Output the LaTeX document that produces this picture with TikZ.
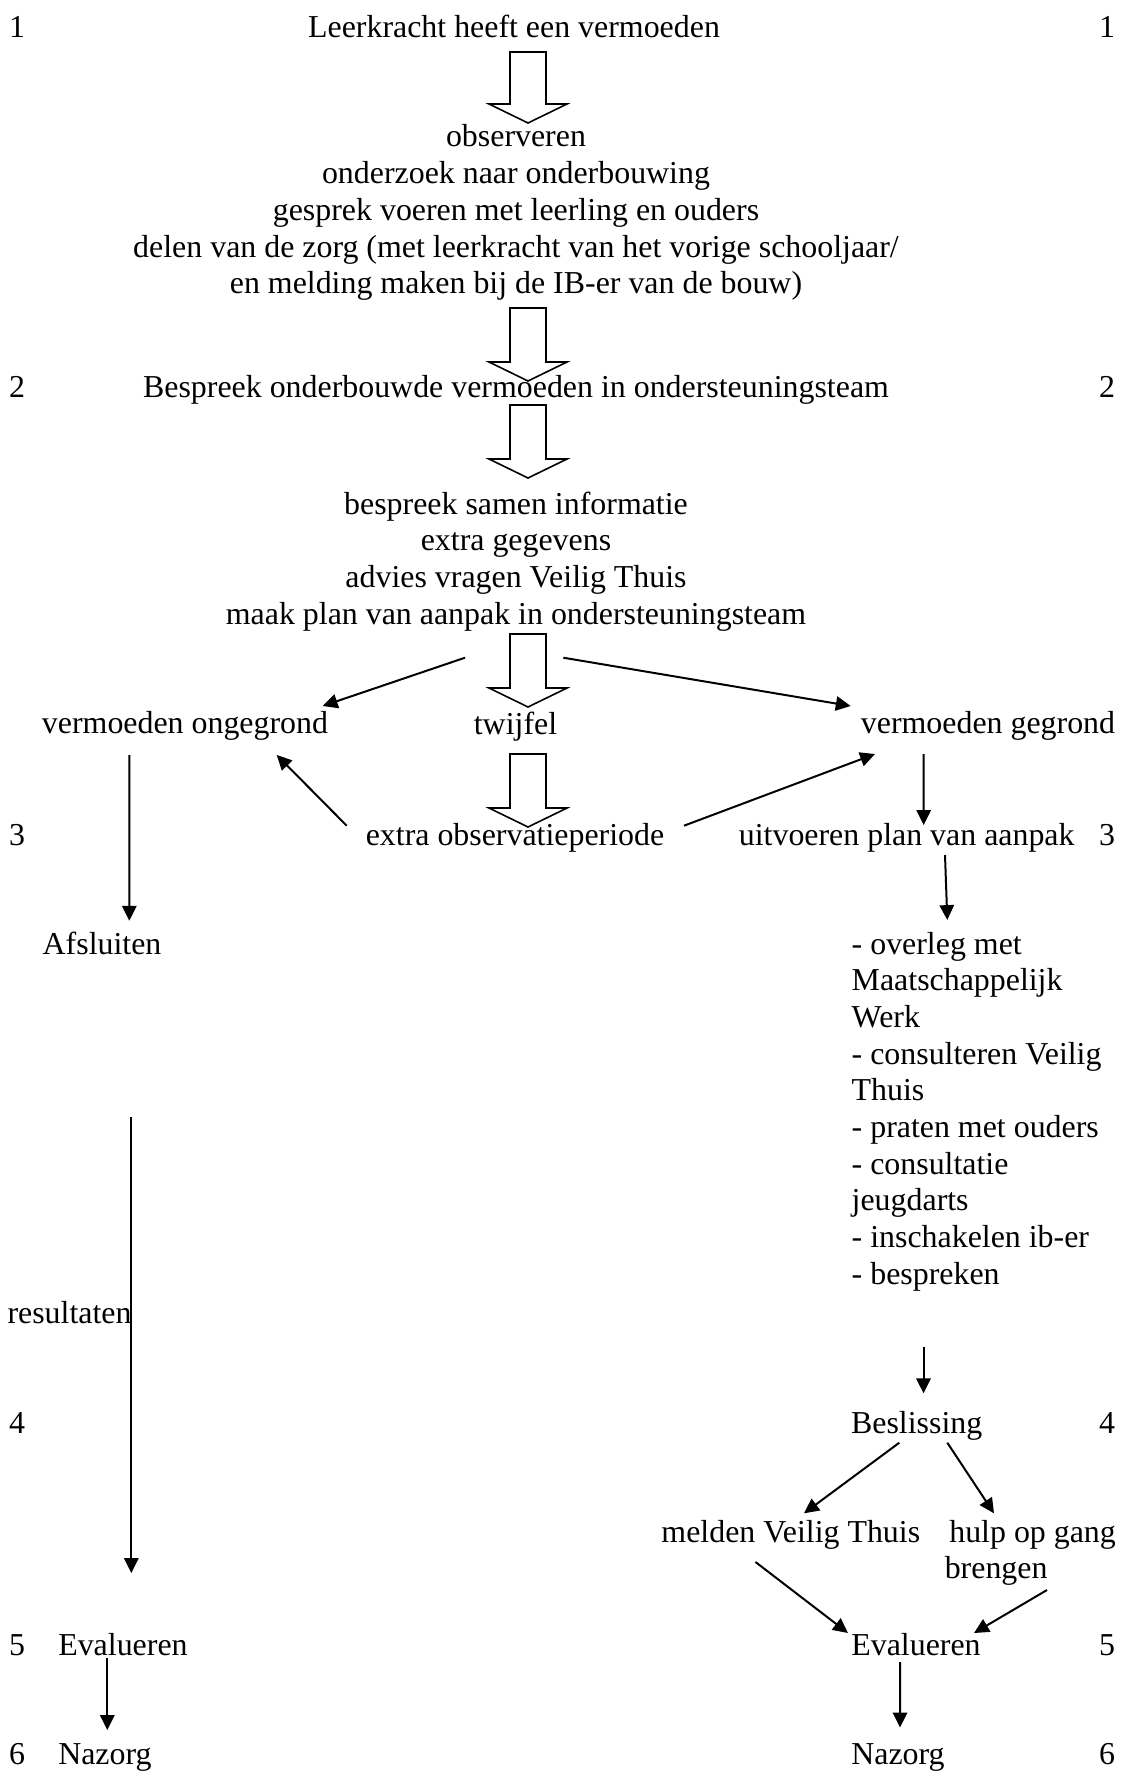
\documentclass[tikz,border=0pt]{standalone}
\usepackage{fontspec}
\setmainfont{Liberation Serif}
\usetikzlibrary{arrows.meta,calc}
\newcommand\harrow[2]{%
  \draw[hollowarr] (510,#1) -- (546,#1) -- (546,#2) -- (567,#2) -- (528,{#2+19}) -- (489,#2) -- (510,#2) -- cycle;}
\begin{document}
\begin{tikzpicture}[x=0.3762pt,y=-0.3762pt,
  every node/.style={inner sep=0pt,outer sep=0pt,font=\fontsize{12}{13.8}\selectfont},
  txt/.style={anchor=base},
  txtl/.style={anchor=base west},
  arr/.style={line width=0.75pt,-{Triangle[length=5.6pt,width=5.4pt]}},
  hollowarr/.style={line width=0.6pt,fill=white,line join=miter}]
\useasboundingbox (0,0) rectangle (1128,1771);

% level numbers
\node[txt] (l1) at (17,38) {1};   \node[txt] (r1) at (1107,38) {1};
\node[txt] (l2) at (17,397) {2};  \node[txt] (r2) at (1107,397) {2};
\node[txt] (l3) at (17,845) {3};\node[txt] (r3) at (1107,845) {3};
\node[txt] (l4) at (17,1433) {4}; \node[txt] (r4) at (1107,1433) {4};
\node[txt] (l5) at (17,1655) {5}; \node[txt] (r5) at (1107,1655) {5};
\node[txt] (l6) at (17,1764) {6}; \node[txt] (r6) at (1107,1764) {6};

% main texts
\node[txt] (t1) at (514,38) {Leerkracht heeft een vermoeden};
\node[txt] (b2) at (516,147) {\begin{tabular}[t]{@{}c@{}}observeren\\onderzoek naar onderbouwing\\gesprek voeren met leerling en ouders\\delen van de zorg (met leerkracht van het vorige schooljaar/\\en melding maken bij de IB-er van de bouw)\end{tabular}};
\node[txt] (t2) at (516,397) {Bespreek onderbouwde vermoeden in ondersteuningsteam};
\node[txt] (b4) at (516,514) {\begin{tabular}[t]{@{}c@{}}bespreek samen informatie\\extra gegevens\\advies vragen Veilig Thuis\\maak plan van aanpak in ondersteuningsteam\end{tabular}};

\node[txt] (ong) at (185,733.5) {vermoeden ongegrond};
\node[txt] (tw) at (515.5,734) {twijfel};
\node[txt] (geg) at (988,733.5) {vermoeden gegrond};
\node[txt] (extra) at (515,845) {extra observatieperiode};
\node[txt] (uitv) at (906.7,845) {uitvoeren plan van aanpak};
\node[txtl] (afs) at (42.7,954) {Afsluiten};
\node[txtl] (list) at (851.7,954) {\begin{tabular}[t]{@{}l@{}}- overleg met\\Maatschappelijk\\Werk\\- consulteren Veilig\\Thuis\\- praten met ouders\\- consultatie\\jeugdarts\\- inschakelen ib-er\\- bespreken\end{tabular}};
\node[anchor=base east] (res) at (131.5,1323) {resultaten};
\node[txt] (besl) at (916.7,1433.3) {Beslissing};
\node[txt] (meld) at (790.8,1542.3) {melden Veilig Thuis};
\node[txtl] (hulp) at (949.3,1542.3) {\begin{tabular}[t]{@{}l@{}}hulp op gang\\\hspace*{-1.7pt}brengen\end{tabular}};
\node[txtl] (evL) at (58.3,1655) {Evalueren};
\node[txt] (evR) at (916,1655) {Evalueren};
\node[txtl] (nazL) at (58.3,1764) {Nazorg};
\node[txtl] (nazR) at (851.3,1764) {Nazorg};

% hollow block arrows
\harrow{52}{104}
\harrow{308}{362}
\harrow{405}{459}
\harrow{634}{688}
\harrow{754}{808}

% connectors
\draw[arr] ($(b4.base)+(-51,143.7)$) -- ($(ong.base)+(137.7,-27.5)$);
\draw[arr] ($(b4.base)+(47.3,143.7)$) -- ($(geg.base)+(-137.3,-27.5)$);
\draw[arr] ($(extra.base)+(-168.3,-19.3)$) -- ($(ong.base)+(91.7,21.5)$);
\draw[arr] ($(extra.base)+(169,-19.3)$) -- ($(geg.base)+(-113,20.5)$);
\draw[arr] ($(ong.base)+(-55.7,21.5)$) -- ($(afs.base west)+(86.6,-33.3)$);
\draw[arr] ($(geg.base)+(-64.3,20.5)$) -- ($(uitv.base)+(17,-20)$);
\draw[arr] ($(uitv.base)+(38.3,10)$) -- ($(list.base west)+(95.6,-34)$);
\draw[arr] ($(afs.base west)+(88.6,163.3)$) -- ($(evL.base west)+(73,-82)$);
\draw[arr] ($(list.base west)+(71.8,392.7)$) -- ($(besl.base)+(6.8,-40)$);
\draw[arr] ($(besl.base)+(-17.4,9.4)$) -- ($(meld.base)+(13.2,-29)$);
\draw[arr] ($(besl.base)+(30.6,9.4)$) -- ($(hulp.base west)+(44.7,-29)$);
\draw[arr] ($(meld.base)+(-35.3,19.7)$) -- ($(evR.base)+(-68,-22)$);
\draw[arr] ($(hulp.base west)+(97.7,47.7)$) -- ($(evR.base)+(58,-22)$);
\draw[arr] ($(evR.base)+(-16,7)$) -- ($(nazR.base west)+(48.7,-36.5)$);
\draw[arr] ($(evL.base west)+(49,3.3)$) -- ($(nazL.base west)+(49,-34)$);
\end{tikzpicture}
\end{document}
